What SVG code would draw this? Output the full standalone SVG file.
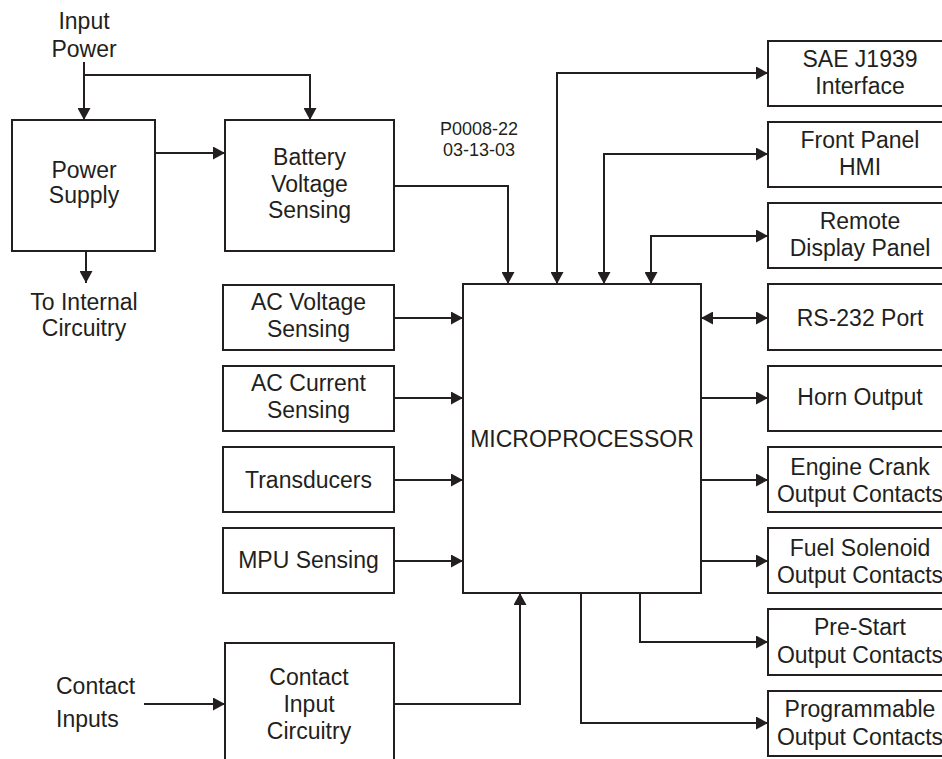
<svg xmlns="http://www.w3.org/2000/svg" width="942" height="759" viewBox="0 0 942 759">
<defs>
<marker id="ah" markerUnits="userSpaceOnUse" markerWidth="13" markerHeight="13" refX="12" refY="6.5" orient="auto-start-reverse" viewBox="0 0 13 13">
<path d="M0,0 L12,6.5 L0,13 z" fill="#231f20"/>
</marker>
<style>
rect{fill:#fff;stroke:#231f20;stroke-width:2}
text{font-family:"Liberation Sans",Arial,sans-serif;font-size:23px;fill:#231f20;text-anchor:middle}
.c path{fill:none;stroke:#231f20;stroke-width:2;marker-end:url(#ah)}
.c path.bi{marker-start:url(#ah)}
.small{font-size:18px}
.left{text-anchor:start}
</style>
</defs>
<rect x="0" y="0" width="942" height="759" style="stroke:none;fill:#fff"/>
<g class="c" id="connectors">
<path d="M84,62 V120"/>
<path d="M84,75 H310 V120"/>
<path d="M155,153 H225"/>
<path d="M86,252 V283"/>
<path d="M394,186 H508 V284"/>
<path class="bi" d="M557,284 V73 H768"/>
<path class="bi" d="M604,284 V154 H768"/>
<path class="bi" d="M651,284 V236 H768"/>
<path d="M394,318 H463"/>
<path d="M394,398 H463"/>
<path d="M394,480 H463"/>
<path d="M394,561 H463"/>
<path class="bi" d="M701,318 H768"/>
<path d="M701,398 H768"/>
<path d="M701,480 H768"/>
<path d="M701,561 H768"/>
<path d="M640,593 V642 H768"/>
<path d="M581,593 V723 H768"/>
<path d="M144,704 H225"/>
<path d="M394,704 H520 V593"/>
</g>
<g id="input-power-label"><text x="84" y="29">Input</text><text x="84" y="57">Power</text></g>
<g id="to-internal-label"><text x="84" y="310">To Internal</text><text x="84" y="336">Circuitry</text></g>
<g id="drawing-number"><text class="small" x="479" y="135">P0008-22</text><text class="small" x="479" y="156">03-13-03</text></g>
<g id="contact-inputs-label"><text class="left" x="56" y="694">Contact</text><text class="left" x="56" y="727">Inputs</text></g>
<g id="power-supply"><rect x="12" y="120" width="143" height="131"/><text x="84" y="178">Power</text><text x="84" y="203">Supply</text></g>
<g id="battery-voltage-sensing"><rect x="225" y="120" width="169" height="131"/><text x="309.5" y="165">Battery</text><text x="309.5" y="192">Voltage</text><text x="309.5" y="218">Sensing</text></g>
<g id="ac-voltage-sensing"><rect x="223" y="285" width="171" height="65"/><text x="308.5" y="310">AC Voltage</text><text x="308.5" y="337">Sensing</text></g>
<g id="ac-current-sensing"><rect x="223" y="366" width="171" height="65"/><text x="308.5" y="391">AC Current</text><text x="308.5" y="418">Sensing</text></g>
<g id="transducers"><rect x="223" y="447" width="171" height="65"/><text x="308.5" y="488">Transducers</text></g>
<g id="mpu-sensing"><rect x="223" y="528" width="171" height="65"/><text x="308.5" y="568">MPU Sensing</text></g>
<g id="contact-input-circuitry"><rect x="225" y="643" width="169" height="130"/><text x="309" y="685">Contact</text><text x="309" y="712">Input</text><text x="309" y="739">Circuitry</text></g>
<g id="microprocessor"><rect x="463" y="284" width="238" height="309"/><text x="582" y="447">MICROPROCESSOR</text></g>
<g id="sae-j1939"><rect x="768" y="41" width="184" height="65"/><text x="860" y="67">SAE J1939</text><text x="860" y="94">Interface</text></g>
<g id="front-panel-hmi"><rect x="768" y="122" width="184" height="65"/><text x="860" y="148">Front Panel</text><text x="860" y="175">HMI</text></g>
<g id="remote-display-panel"><rect x="768" y="203" width="184" height="65"/><text x="860" y="229">Remote</text><text x="860" y="256">Display Panel</text></g>
<g id="rs232-port"><rect x="768" y="284" width="184" height="66"/><text x="860" y="326">RS-232 Port</text></g>
<g id="horn-output"><rect x="768" y="366" width="184" height="65"/><text x="860" y="405">Horn Output</text></g>
<g id="engine-crank"><rect x="768" y="447" width="184" height="65"/><text x="860" y="475">Engine Crank</text><text x="860" y="502">Output Contacts</text></g>
<g id="fuel-solenoid"><rect x="768" y="528" width="184" height="65"/><text x="860" y="556">Fuel Solenoid</text><text x="860" y="583">Output Contacts</text></g>
<g id="pre-start"><rect x="768" y="609" width="184" height="66"/><text x="860" y="635">Pre-Start</text><text x="860" y="663">Output Contacts</text></g>
<g id="programmable"><rect x="768" y="691" width="184" height="65"/><text x="860" y="717">Programmable</text><text x="860" y="745">Output Contacts</text></g>
</svg>
